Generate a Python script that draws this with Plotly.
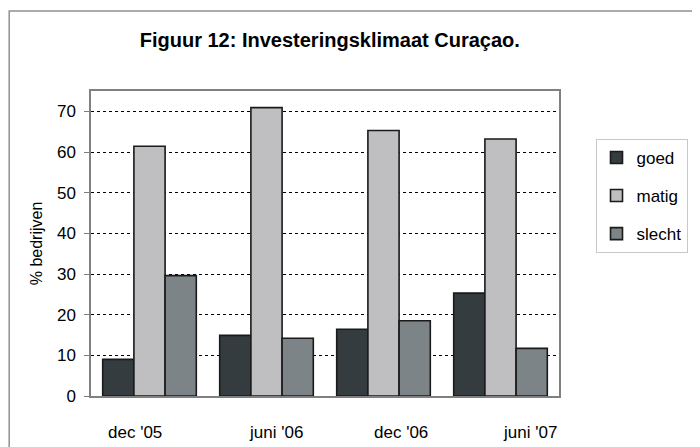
import plotly.graph_objects as go

# periods and shares of companies (%) per judgement
periods = ["dec '05", "juni '06", "dec '06", "juni '07"]
goed = [9.0, 14.9, 16.4, 25.3]
matig = [61.4, 70.9, 65.3, 63.2]
slecht = [29.6, 14.2, 18.5, 11.7]

series = [("goed", goed, "#353c3f"),
          ("matig", matig, "#bfbfc1"),
          ("slecht", slecht, "#7d8487")]

# page body has an 8px margin, so the figure is a bit smaller than the window
fig = go.Figure()
for name, vals, col in series:
    fig.add_trace(go.Bar(x=periods, y=vals, name=name, legendgroup=name,
                         marker=dict(color=col, line=dict(color="#1a1a1a", width=1.6))))

fig.update_layout(
    width=692, height=439,
    paper_bgcolor="white", plot_bgcolor="white",
    margin=dict(l=83, r=137, t=83, b=51),
    font=dict(family="Liberation Sans, Arial, sans-serif", size=16, color="black"),
    title=dict(text="<b>Figuur 12: Investeringsklimaat Curaçao.</b>",
               x=0.465, xanchor="center", y=0.927, yanchor="middle",
               font=dict(size=20)),
    barmode="group", bargap=0.2, bargroupgap=0,
    showlegend=True,
    legend=dict(x=1.078, xanchor="left", y=0.843, yanchor="top",
                bordercolor="#c8c8c8", borderwidth=1, bgcolor="white",
                font=dict(size=17), tracegroupgap=13, itemwidth=30),
)

fig.update_yaxes(range=[0, 75], tickvals=[0, 10, 20, 30, 40, 50, 60, 70],
                 showgrid=True, gridcolor="black", griddash="dot", gridwidth=1,
                 ticks="outside", ticklen=5, tickcolor="#808080",
                 ticklabelstandoff=5, tickfont=dict(size=17),
                 showline=True, linecolor="#808080", linewidth=1.5, mirror=True,
                 zeroline=False,
                 title=dict(text="% bedrijven", font=dict(size=16), standoff=10))
fig.update_xaxes(showline=True, linecolor="#808080", linewidth=1.5, mirror=True,
                 ticks="", showticklabels=False)

# category labels sit a bit off the group centres, as in the original
label_shift = [-15, 9, 17, 29]
for p, dx in zip(periods, label_shift):
    fig.add_annotation(x=p, xref="x", y=-36 / 305, yref="paper", text=p,
                       showarrow=False, xshift=dx, yanchor="middle",
                       font=dict(size=17))

# outer frame round the whole chart
fig.add_shape(type="rect", xref="paper", yref="paper",
              x0=-0.1748, x1=1.3, y0=-0.2, y1=1.262,
              line=dict(color="#909090", width=1.5))

fig.write_html("out.html")
